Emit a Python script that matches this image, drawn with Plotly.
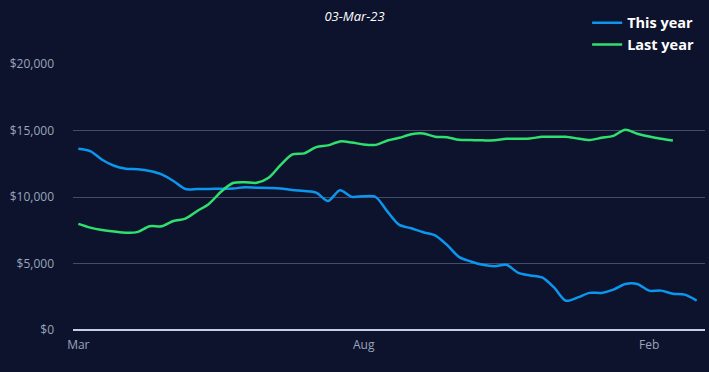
import plotly.graph_objects as go

title_text = "03-Mar-23"
week_labels = ["Mar", "Aug", "Feb"]
week_label_pos = [0, 24, 48]
y_tick_vals = [0, 5000, 10000, 15000, 20000]
y_tick_text = ["$0", "$5,000", "$10,000", "$15,000", "$20,000"]

this_year_weeks = list(range(0, 53))
this_year = [13630, 13450, 12800, 12350, 12130, 12080, 11950, 11700, 11200, 10600,
             10600, 10610, 10620, 10640, 10740, 10700, 10680, 10640, 10520, 10450,
             10330, 9700, 10510, 10010, 10060, 10000, 8900, 7900, 7650, 7350,
             7120, 6400, 5500, 5150, 4900, 4790, 4900, 4300, 4100, 3950,
             3200, 2200, 2450, 2790, 2790, 3030, 3460, 3460, 2960, 2960,
             2730, 2660, 2210]

last_year_weeks = list(range(0, 51))
last_year = [7980, 7700, 7520, 7400, 7310, 7380, 7800, 7800, 8200, 8380,
             8950, 9500, 10400, 11050, 11110, 11070, 11450, 12400, 13200, 13280,
             13750, 13880, 14180, 14100, 13950, 13920, 14250, 14450, 14720, 14780,
             14530, 14500, 14300, 14280, 14260, 14260, 14380, 14380, 14400, 14530,
             14530, 14530, 14400, 14280, 14450, 14600, 15060, 14760, 14550, 14380,
             14250]

BG = "#0d132d"

fig = go.Figure()
fig.add_trace(go.Scatter(x=this_year_weeks, y=this_year, name="This year", mode="lines",
                         line=dict(color="#0b97ee", width=2.5, shape="spline", smoothing=0.8)))
fig.add_trace(go.Scatter(x=last_year_weeks, y=last_year, name="Last year", mode="lines",
                         line=dict(color="#2fe06e", width=2.5, shape="spline", smoothing=0.8)))

fig.update_layout(
    width=709, height=372,
    paper_bgcolor=BG, plot_bgcolor=BG,
    margin=dict(l=73, r=4, t=64, b=42),
    font=dict(family="Open Sans", color="#a3adc4", size=12),
    title=dict(text=title_text, x=0.5, xanchor="center", y=0.957, yanchor="middle",
               font=dict(size=13, color="#ffffff", family="Open Sans", style="italic")),
    showlegend=True,
    legend=dict(x=0.8135, xanchor="left", y=1.215, yanchor="top",
                bgcolor="rgba(0,0,0,0)",
                font=dict(size=14.5, color="#ffffff", family="Open Sans", weight="bold"),
                tracegroupgap=0),
    xaxis=dict(range=[-0.45, 52.7], tickmode="array", tickvals=week_label_pos, ticktext=week_labels,
               showgrid=False, zeroline=False, showline=False, ticks="",
               ticklabelstandoff=6,
               tickfont=dict(size=12, color="#9aa4bb")),
    yaxis=dict(range=[0, 20000], tickmode="array", tickvals=y_tick_vals, ticktext=y_tick_text,
               showgrid=True, gridcolor="#474c66", gridwidth=1,
               zeroline=True, zerolinecolor="#c9cde0", zerolinewidth=2, showline=False,
               ticklabelstandoff=18, tickfont=dict(size=12, color="#9aa4bb")),
)

fig.write_html("out.html", config={"displayModeBar": False},
               post_script="document.body.style.margin='0';document.body.style.background='" + BG + "';")
